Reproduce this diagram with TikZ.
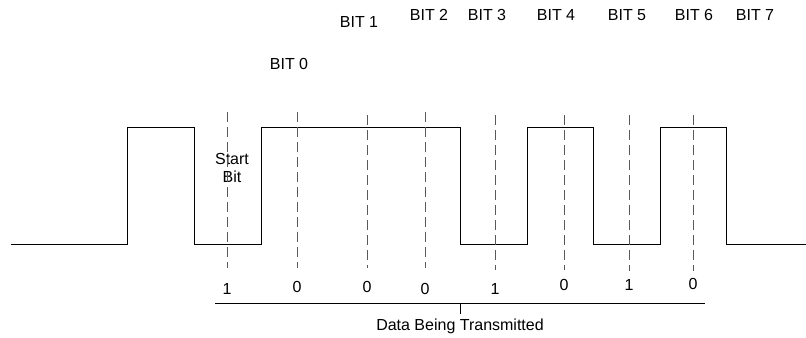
\documentclass[tikz,border=0pt]{standalone}
\usepackage{fontspec}
\setmainfont{Liberation Sans}
\begin{document}
\begin{tikzpicture}[x=0.75pt,y=-0.75pt, line width=0.75pt,
  every node/.style={font=\fontsize{12}{13.5}\selectfont, align=center, inner sep=1pt},
  sample/.style={dash pattern=on 7.5pt off 3.75pt, black!65}]
\useasboundingbox (0,0) rectangle (806,337);

% serial line
\draw (11,244) -- (127,244) -- (127,127) -- (194,127) -- (194,244)
  -- (261,244) -- (261,127) -- (460,127) -- (460,244) -- (527,244)
  -- (527,127) -- (593,127) -- (593,244) -- (660,244) -- (660,127)
  -- (726,127) -- (726,244) -- (806,244);

\node (start) at (232,168) {Start\\Bit};

% sample points
\coordinate (s0t) at (227,112); \coordinate (s0b) at (227,268);
\coordinate (s1t) at (297,112); \coordinate (s1b) at (297,268);
\coordinate (s2t) at (367,115); \coordinate (s2b) at (367,268);
\coordinate (s3t) at (425,112); \coordinate (s3b) at (425,268);
\coordinate (s4t) at (495,115); \coordinate (s4b) at (495,270);
\coordinate (s5t) at (564,115); \coordinate (s5b) at (564,270);
\coordinate (s6t) at (629,115); \coordinate (s6b) at (629,271);
\coordinate (s7t) at (693,115); \coordinate (s7b) at (693,271);
\draw[sample] (s0t) -- (s0b);
\draw[sample] (s1t) -- (s1b);
\draw[sample] (s2t) -- (s2b);
\draw[sample] (s3t) -- (s3b);
\draw[sample] (s4t) -- (s4b);
\draw[sample] (s5t) -- (s5b);
\draw[sample] (s6t) -- (s6b);
\draw[sample] (s7t) -- (s7b);

% bit names
\node (bit0) at (289,64) {BIT 0};
\node (bit1) at (359,22) {BIT 1};
\node (bit2) at (429,15) {BIT 2};
\node (bit3) at (487,15) {BIT 3};
\node (bit4) at (556,15) {BIT 4};
\node (bit5) at (627,15) {BIT 5};
\node (bit6) at (694,15) {BIT 6};
\node (bit7) at (755,15) {BIT 7};

% bit values
\node (v0) at (227,289) {1};
\node (v1) at (297,287) {0};
\node (v2) at (367,287) {0};
\node (v3) at (425,289) {0};
\node (v4) at (495,289) {1};
\node (v5) at (564,285) {0};
\node (v6) at (629,285) {1};
\node (v7) at (693,284) {0};

% data bracket
\coordinate (brl) at (215,303);
\coordinate (brr) at (705,303);
\coordinate (brm) at (460,303);
\coordinate (brt) at (460,314);
\draw (brl) -- (brr);
\draw (brm) -- (brt);
\node (data) at (460,326) {Data Being Transmitted};
\end{tikzpicture}
\end{document}
